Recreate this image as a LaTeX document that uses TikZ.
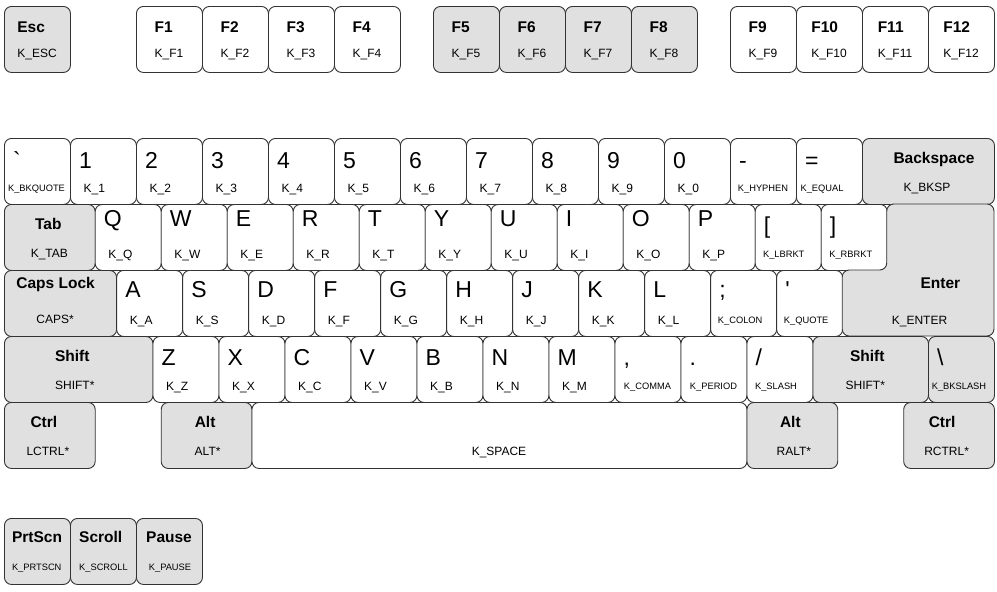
\documentclass[tikz,border=0pt]{standalone}
\usepackage{fontspec}
\setmainfont{Liberation Sans}[Ligatures=TeXOff]
\usetikzlibrary{calc}
\definecolor{keygray}{HTML}{E0E0E0}
\definecolor{keyline}{HTML}{333333}
\tikzset{
  keyw/.style={draw=keyline, line width=0.9pt, rounded corners=7pt, fill=white, inner sep=0pt, minimum height=66pt},
  keyg/.style={keyw, fill=keygray},
  bigch/.style={font=\fontsize{23}{23}\selectfont, inner sep=0pt, text=black},
  codel/.style={font=\fontsize{12}{12}\selectfont, inner sep=0pt, text=black},
  codes/.style={font=\fontsize{9.3}{9.3}\selectfont, inner sep=0pt, text=black},
  modl/.style={font=\bfseries\fontsize{15.5}{15.5}\selectfont, inner sep=0pt, text=black},
}
% regular key: [style]{name}{x}{y}{big}{code}{baseline offset}
\newcommand\rkey[7][keyw]{%
  \node[#1, minimum width=66pt, anchor=north west] (#2) at (#3,#4) {};
  \node[bigch, anchor=base west] (#2-l) at ({#3+9},{#4+#7}) {#5};
  \node[codel, anchor=base west] (#2-c) at ({#3+13.5},{#4+54}) {#6};
}
% regular key with small code: [style]{name}{x}{y}{big}{code}{baseline offset}{code dx}
\newcommand\rkeys[8][keyw]{%
  \node[#1, minimum width=66pt, anchor=north west] (#2) at (#3,#4) {};
  \node[bigch, anchor=base west] (#2-l) at ({#3+9},{#4+#7}) {#5};
  \node[codes, anchor=base] (#2-c) at ({#3+33+(#8)},{#4+53}) {#6};
}
% modifier key: {name}{x}{y}{w}{label}{code}{label dx}{code dx}{label baseline}
\newcommand\gkey[9]{%
  \node[keyg, minimum width=#4pt, anchor=north west] (#1) at (#2,#3) {};
  \node[modl, anchor=base] (#1-l) at ({#2+#4/2+(#7)},{#3+#9}) {#5};
  \node[codel, anchor=base] (#1-c) at ({#2+#4/2+(#8)},{#3+53}) {#6};
}
% function key: [style]{name}{x}{y}{label}{code}
\newcommand\fkey[6][keyw]{%
  \node[#1, minimum width=66pt, anchor=north west] (#2) at (#3,#4) {};
  \node[codel, anchor=base] (#2-c) at ({#3+33},{#4+51}) {#6};
  \node[modl, anchor=base west] (#2-l) at ($(#2-c.base west)+(0,-25)$) {#5};
}
\begin{document}
\begin{tikzpicture}[x=1pt,y=-1pt]
\useasboundingbox (0,0) rectangle (997,592);
% function row
\fkey[keyg]{esc}{4}{6}{Esc}{K\_ESC}
\fkey{f1}{136}{6}{F1}{K\_F1}
\fkey{f2}{202}{6}{F2}{K\_F2}
\fkey{f3}{268}{6}{F3}{K\_F3}
\fkey{f4}{334}{6}{F4}{K\_F4}
\fkey[keyg]{f5}{433}{6}{F5}{K\_F5}
\fkey[keyg]{f6}{499}{6}{F6}{K\_F6}
\fkey[keyg]{f7}{565}{6}{F7}{K\_F7}
\fkey[keyg]{f8}{631}{6}{F8}{K\_F8}
\fkey{f9}{730}{6}{F9}{K\_F9}
\fkey{f10}{796}{6}{F10}{K\_F10}
\fkey{f11}{862}{6}{F11}{K\_F11}
\fkey{f12}{928}{6}{F12}{K\_F12}
% number row
\rkeys{bkq}{4}{138}{\symbol{96}}{K\_BKQUOTE}{30}{-0.5}
\rkey{k1}{70}{138}{1}{K\_1}{30}
\rkey{k2}{136}{138}{2}{K\_2}{30}
\rkey{k3}{202}{138}{3}{K\_3}{30}
\rkey{k4}{268}{138}{4}{K\_4}{30}
\rkey{k5}{334}{138}{5}{K\_5}{30}
\rkey{k6}{400}{138}{6}{K\_6}{30}
\rkey{k7}{466}{138}{7}{K\_7}{30}
\rkey{k8}{532}{138}{8}{K\_8}{30}
\rkey{k9}{598}{138}{9}{K\_9}{30}
\rkey{k0}{664}{138}{0}{K\_0}{30}
\rkeys{hyp}{730}{138}{-}{K\_HYPHEN}{30}{0}
\rkeys{equ}{796}{138}{=}{K\_EQUAL}{30}{-7}
\gkey{bksp}{862}{138}{132}{Backspace}{K\_BKSP}{6}{-1}{25.5}
% Q row
\gkey{tab}{4}{204}{90.75}{Tab}{K\_TAB}{-1}{0}{25.5}
\rkey{kq}{94.75}{204}{Q}{K\_Q}{22}
\rkey{kw}{160.75}{204}{W}{K\_W}{22}
\rkey{ke}{226.75}{204}{E}{K\_E}{22}
\rkey{kr}{292.75}{204}{R}{K\_R}{22}
\rkey{kt}{358.75}{204}{T}{K\_T}{22}
\rkey{ky}{424.75}{204}{Y}{K\_Y}{22}
\rkey{ku}{490.75}{204}{U}{K\_U}{22}
\rkey{ki}{556.75}{204}{I}{K\_I}{22}
\rkey{ko}{622.75}{204}{O}{K\_O}{22}
\rkey{kp}{688.75}{204}{P}{K\_P}{22}
\rkeys{lbr}{754.75}{204}{[}{K\_LBRKT}{29}{-4}
\rkeys{rbr}{820.75}{204}{]}{K\_RBRKT}{29}{-3}
% A row
\gkey{caps}{4}{270}{112.2}{Caps Lock}{CAPS*}{-4.5}{-5}{18.5}
\rkey{ka}{116.2}{270}{A}{K\_A}{27}
\rkey{ks}{182.2}{270}{S}{K\_S}{27}
\rkey{kd}{248.2}{270}{D}{K\_D}{27}
\rkey{kf}{314.2}{270}{F}{K\_F}{27}
\rkey{kg}{380.2}{270}{G}{K\_G}{27}
\rkey{kh}{446.2}{270}{H}{K\_H}{27}
\rkey{kj}{512.2}{270}{J}{K\_J}{27}
\rkey{kk}{578.2}{270}{K}{K\_K}{27}
\rkey{kl}{644.2}{270}{L}{K\_L}{27}
\rkeys{col}{710.2}{270}{;}{K\_COLON}{27}{-3}
\rkeys{quo}{776.2}{270}{\symbol{39}}{K\_QUOTE}{27}{-3}
% Enter (L-shaped)
\draw[keyg] (940,204) -- (994,204) -- (994,336) -- (842.2,336) -- (842.2,270) -- (886.75,270) -- (886.75,204) -- cycle;
\node[modl, anchor=base] (enter-l) at (940.4,288) {Enter};
\node[codel, anchor=base] (enter-c) at (919.5,324) {K\_ENTER};
% Z row
\gkey{lshift}{4}{336}{148.5}{Shift}{SHIFT*}{-6}{-3.5}{25}
\rkey{kz}{152.5}{336}{Z}{K\_Z}{29}
\rkey{kx}{218.5}{336}{X}{K\_X}{29}
\rkey{kc}{284.5}{336}{C}{K\_C}{29}
\rkey{kv}{350.5}{336}{V}{K\_V}{29}
\rkey{kb}{416.5}{336}{B}{K\_B}{29}
\rkey{kn}{482.5}{336}{N}{K\_N}{29}
\rkey{km}{548.5}{336}{M}{K\_M}{29}
\rkeys{com}{614.5}{336}{,}{K\_COMMA}{29}{0}
\rkeys{per}{680.5}{336}{.}{K\_PERIOD}{29}{0}
\rkeys{sla}{746.5}{336}{/}{K\_SLASH}{29}{-3.5}
\gkey{rshift}{812.5}{336}{115.5}{Shift}{SHIFT*}{-3}{-5}{25}
\rkeys[keyg]{bsl}{928}{336}{\textbackslash}{K\_BKSLASH}{29}{-2}
% bottom row
\gkey{lctrl}{4}{402}{90.75}{Ctrl}{LCTRL*}{-5.5}{-1.5}{25.5}
\gkey{lalt}{160.75}{402}{90.75}{Alt}{ALT*}{-1}{1.5}{25.5}
\node[keyw, minimum width=495pt, anchor=north west] (space) at (251.5,402) {};
\node[codel, anchor=base] (space-c) at (499,455.5) {K\_SPACE};
\gkey{ralt}{746.5}{402}{90.75}{Alt}{RALT*}{-1.5}{2}{25.5}
\gkey{rctrl}{903.25}{402}{90.75}{Ctrl}{RCTRL*}{-6.5}{-2}{25.5}
% system cluster
\node[keyg, minimum width=66pt, anchor=north west] (prt) at (4,518) {};
\node[modl, anchor=base] (prt-l) at (37,542.5) {PrtScn};
\node[codes, anchor=base west] (prt-c) at (prt-l.base west |- 0,570) {K\_PRTSCN};
\node[keyg, minimum width=66pt, anchor=north west] (scr) at (70,518) {};
\node[codes, anchor=base] (scr-c) at (103.5,570) {K\_SCROLL};
\node[modl, anchor=base west] (scr-l) at (scr-c.base west |- 0,542.5) {Scroll};
\node[keyg, minimum width=66pt, anchor=north west] (pau) at (136,518) {};
\node[modl, anchor=base] (pau-l) at (169,542.5) {Pause};
\node[codes, anchor=base] (pau-c) at (170,570) {K\_PAUSE};
\end{tikzpicture}
\end{document}
